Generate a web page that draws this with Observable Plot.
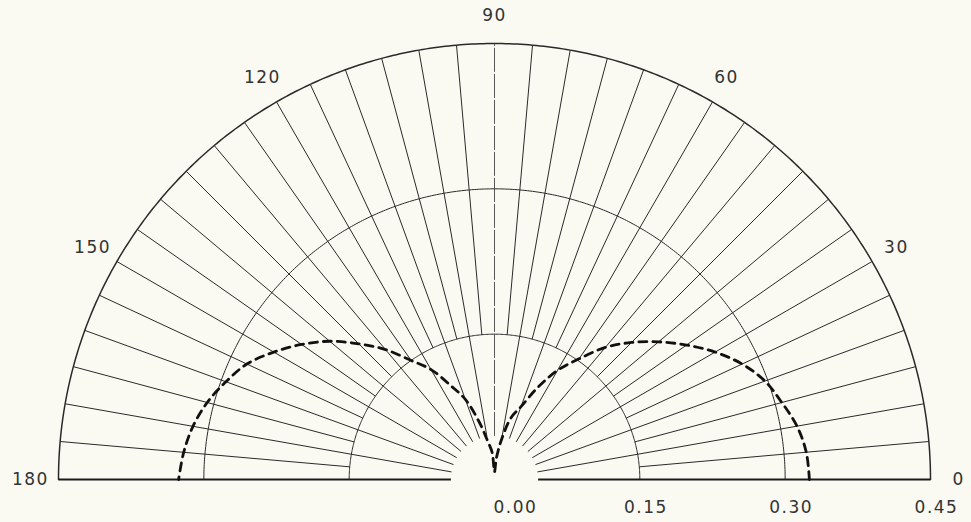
<!DOCTYPE html>
<html><head><meta charset="utf-8">
<script src="https://cdn.jsdelivr.net/npm/d3@7"></script>
<script src="https://cdn.jsdelivr.net/npm/@observablehq/plot@0.6"></script>
<style>
html,body{margin:0;padding:0;background:#fafaf2;}
svg text{letter-spacing:1.5px;}
</style></head><body><div id="chart"></div>
<script>
// Angular axis (degrees) and labels
const angleTicks = [0, 30, 60, 90, 120, 150, 180];
const angleTickLabels = ["0", "30", "60", "90", "120", "150", "180"];
// Radial axis
const radiusTicks = [0.15, 0.30, 0.45];
const radiusTickLabels = ["0.15", "0.30", "0.45"];
const originLabel = "0.00";
const gridRadii = [0.15, 0.30, 0.45];
const rMax = 0.45;
const spokeStep = 5;          // degrees between spokes
const rInnerMajor = 0.045;    // spokes at multiples of 10 deg start here
const rInnerMinor = 0.15;     // other spokes start at the first circle

// Dashed pattern: angle (deg) -> radius
const patternAngles = [0, 5, 10, 15, 20, 25, 30, 35, 40, 45, 50, 55, 60, 65, 70, 75, 80, 85,
                       90, 95, 100, 105, 110, 115, 120, 125, 130, 135, 140, 145, 150, 155, 160, 165, 170, 175, 180];
const patternRadius = [0.325, 0.323, 0.317, 0.307, 0.297, 0.282, 0.263, 0.242, 0.221, 0.200, 0.178, 0.152, 0.130, 0.104, 0.080, 0.066, 0.042, 0.022,
                       0.008, 0.028, 0.040, 0.062, 0.088, 0.107, 0.131, 0.150, 0.175, 0.198, 0.222, 0.243, 0.263, 0.282, 0.295, 0.307, 0.316, 0.322, 0.326];

const rad = d => d * Math.PI / 180;
const px = (r, a) => r * Math.cos(rad(a));
const py = (r, a) => r * Math.sin(rad(a));

// grid geometry
const arcPts = gridRadii.flatMap(r => d3.range(0, 180.5, 0.5).map(a => ({r, a})));
const spokes = d3.range(spokeStep, 180, spokeStep).filter(a => a !== 90)
  .map(a => ({a, r0: a % 10 === 0 ? rInnerMajor : rInnerMinor}));
const pattern = patternAngles.map((a, i) => ({a, r: patternRadius[i]}));
const angLabels = angleTicks.map((a, i) => ({a, t: angleTickLabels[i]}));
const radLabels = radiusTicks.map((r, i) => ({r, t: radiusTickLabels[i]}));

const ink = "#2a2a2a";
const txt = "#333333";
const font = "DejaVu Sans";
const fs = 17;

const chart = Plot.plot({
  width: 971, height: 522,
  marginLeft: 58, marginRight: 41, marginTop: 43, marginBottom: 43,
  x: {domain: [-rMax, rMax], axis: null},
  y: {domain: [0, rMax], axis: null},
  style: {background: "transparent", fontFamily: font},
  marks: [
    Plot.line(arcPts.filter(d => d.r < rMax), {x: d => px(d.r, d.a), y: d => py(d.r, d.a), z: "r", stroke: ink, strokeWidth: 1}),
    Plot.line(arcPts.filter(d => d.r === rMax), {x: d => px(d.r, d.a), y: d => py(d.r, d.a), stroke: ink, strokeWidth: 1.5}),
    Plot.link(spokes, {x1: d => px(d.r0, d.a), y1: d => py(d.r0, d.a), x2: d => px(rMax, d.a), y2: d => py(rMax, d.a), stroke: ink, strokeWidth: 1}),
    Plot.link([90], {x1: a => px(rInnerMajor, a), y1: a => py(rInnerMajor, a), x2: a => px(rMax, a), y2: a => py(rMax, a), stroke: "#444", strokeWidth: 0.9, strokeDasharray: "24,2"}),
    Plot.link([0, 180], {x1: a => px(rInnerMajor, a), y1: a => py(rInnerMajor, a), x2: a => px(rMax, a), y2: a => py(rMax, a), stroke: "#1a1a1a", strokeWidth: 2}),
    Plot.line(pattern, {x: d => px(d.r, d.a), y: d => py(d.r, d.a), stroke: "#111", strokeWidth: 2.8, strokeDasharray: "8,6", curve: "catmull-rom"}),
    Plot.text(angLabels, {x: d => px(0.479, d.a), y: d => py(0.479, d.a), text: "t", fontSize: fs, fill: txt, fontFamily: font}),
    Plot.text(radLabels, {x: "r", y: 0, dx: 6, dy: 28, text: "t", fontSize: fs, fill: txt, fontFamily: font}),
    Plot.text([originLabel], {x: 0, y: 0, dx: -1, dy: 28, text: d => d, textAnchor: "start", fontSize: fs, fill: txt, fontFamily: font})
  ]
});
document.getElementById("chart").appendChild(chart);
</script>
</body></html>
